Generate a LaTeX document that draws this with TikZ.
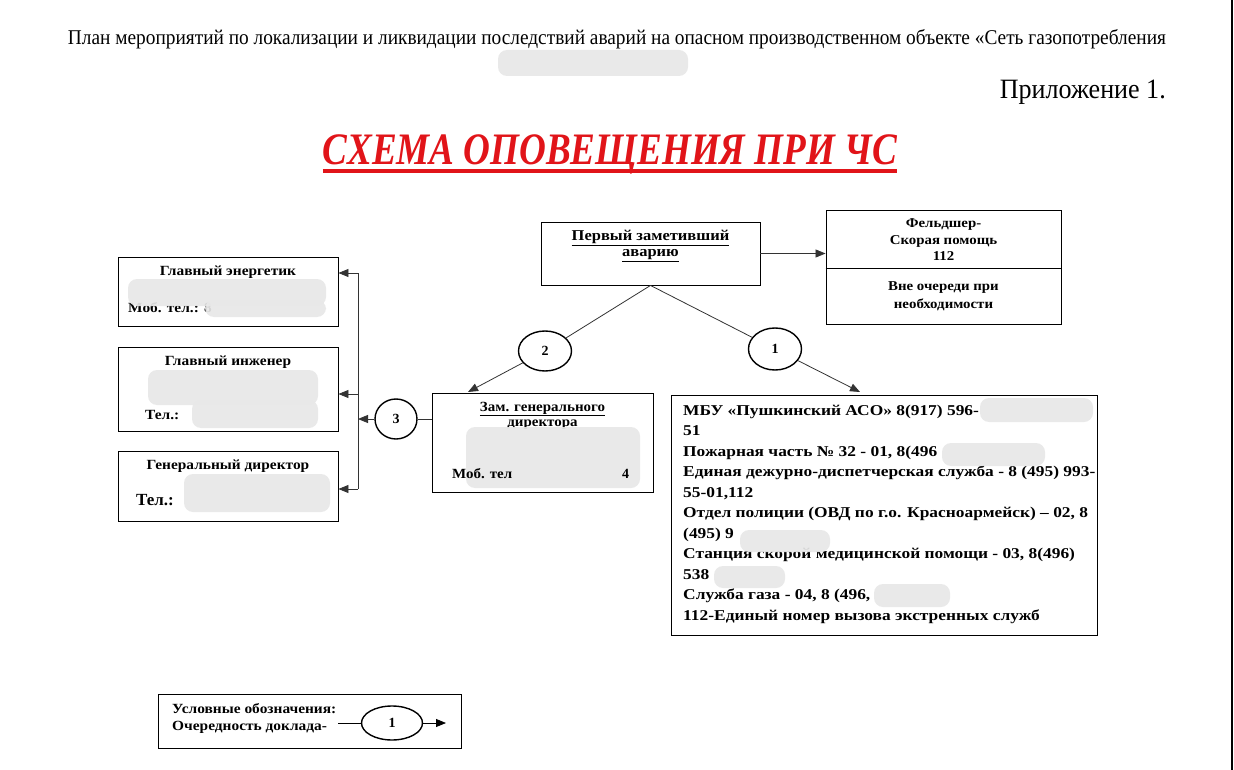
\documentclass[tikz,border=0pt]{standalone}
\usepackage{fontspec}
\usepackage{graphicx}
\setmainfont{Liberation Serif}
\usetikzlibrary{arrows.meta,shapes.geometric}
\definecolor{titlered}{RGB}{225,20,25}
\newcommand{\hsa}[1]{\scalebox{1.1}[1]{#1}}
\newcommand{\hsb}[1]{\scalebox{1.16}[1]{#1}}
\begin{document}
\begin{tikzpicture}[x=1pt,y=-1pt,
 box/.style={draw=black, line width=0.9pt, rectangle, inner sep=0pt},
 oval/.style={draw=black, line width=1.4pt, ellipse, inner sep=0pt, font=\bfseries\fontsize{14}{16}\selectfont},
 conn/.style={draw=black!80, line width=0.8pt},
 arr/.style={conn, -{Triangle[length=10pt,width=8pt]}},
 bt/.style={font=\bfseries\fontsize{14}{16}\selectfont, inner sep=0pt},
 st/.style={font=\bfseries\fontsize{13.5}{15}\selectfont, inner sep=0pt},
 mt/.style={font=\bfseries\fontsize{15}{17}\selectfont, inner sep=0pt, anchor=base west},
 blur/.style={fill=black!9, draw=none, opacity=0.92, rounded corners=9pt},
]
\useasboundingbox (0,0) rectangle (1234,770);
\fill[white] (0,0) rectangle (1234,770);
\draw[line width=2pt] (1232,0) -- (1232,770);

% header
\node[anchor=base, inner sep=0pt, font=\fontsize{21}{23}\selectfont] (hdr) at (617,45)
 {\resizebox{1098pt}{\height}{План мероприятий по локализации и ликвидации последствий аварий на опасном производственном объекте «Сеть газопотребления}};
\fill[blur] (498,50) rectangle (688,76);
\node[anchor=base east, inner sep=0pt, font=\fontsize{28}{30}\selectfont] (app) at (1166,99)
 {\resizebox{166pt}{\height}{Приложение 1.}};
\node[anchor=base, inner sep=0pt, text=titlered, font=\bfseries\itshape\fontsize{45}{50}\selectfont] (title) at (610,165)
 {\resizebox{574pt}{\height}{СХЕМА ОПОВЕЩЕНИЯ ПРИ ЧС}};
\draw[titlered, line width=4pt] ([yshift=-6pt]title.base west) -- ([yshift=-6pt]title.base east);

% boxes
\node[box, minimum width=219pt, minimum height=63pt] (first) at (650.5,253.5) {};
\node[bt, font=\bfseries\fontsize{15}{17}\selectfont] (firstt1) at (650.5,238) {\hsa{\underline{Первый заметивший}}};
\node[bt, font=\bfseries\fontsize{15}{17}\selectfont] (firstt2) at (650.5,256) {\hsa{\underline{аварию}}};

\node[box, minimum width=235pt, minimum height=114pt] (feld) at (943.5,267) {};
\draw[line width=0.9pt] (feld.west |- 0,268) coordinate (fdl) -- (feld.east |- 0,268) coordinate (fdr);
\node[st] (f1) at (943.5,225) {\hsa{Фельдшер-}};
\node[st] (f2) at (943.5,241) {\hsa{Скорая помощь}};
\node[st] (f3) at (943.5,256) {\hsa{112}};
\node[st] (f4) at (943.5,288) {\hsa{Вне очереди при}};
\node[st] (f5) at (943.5,305) {\hsa{необходимости}};

\node[box, minimum width=221pt, minimum height=99pt] (zam) at (542.5,442.5) {};
\node[bt] (z1) at (542.5,409) {\scalebox{1.07}[1]{\underline{Зам. генерального}}};
\node[bt] (z2) at (542.5,425) {\scalebox{1.07}[1]{директора}};
\fill[blur] (466,427) rectangle (640,488);
\node[bt, anchor=base west] (z3) at (452,478) {\scalebox{1.07}[1]{Моб. тел}};
\node[bt, anchor=base west] (z4) at (622,478) {4};

\node[box, minimum width=426pt, minimum height=240pt] (mbu) at (884,515) {};
\node[mt] (m1) at (683,415) {\hsb{МБУ «Пушкинский АСО» 8(917) 596-}};
\node[mt] (m2) at (683,435.5) {\hsb{51}};
\node[mt] (m3) at (683,456) {\hsb{Пожарная часть № 32 - 01, 8(496}};
\node[mt] (m4) at (683,476.5) {\hsb{Единая дежурно-диспетчерская служба - 8 (495) 993-}};
\node[mt] (m5) at (683,497) {\hsb{55-01,112}};
\node[mt] (m6) at (683,517.5) {\hsb{Отдел полиции (ОВД по г.о. Красноармейск) – 02, 8}};
\node[mt] (m7) at (683,538) {\hsb{(495) 9}};
\node[mt] (m8) at (683,558.5) {\hsb{Станция скорой медицинской помощи - 03, 8(496)}};
\node[mt] (m9) at (683,579) {\hsb{538}};
\node[mt] (m10) at (683,599.5) {\hsb{Служба газа - 04, 8 (496,}};
\node[mt] (m11) at (683,620) {\hsb{112-Единый номер вызова экстренных служб}};
\fill[blur] (980,398) rectangle (1093,422);
\fill[blur] (942,443) rectangle (1045,466);
\fill[blur] (740,530) rectangle (830,552);
\fill[blur] (714,566) rectangle (785,588);
\fill[blur] (874,584) rectangle (950,607);

\node[box, minimum width=220pt, minimum height=69pt] (en) at (228,291.5) {};
\node[bt] (en1) at (228,272) {\hsa{Главный энергетик}};
\node[bt, anchor=base west] (en2) at (128,312) {\hsa{Моб. тел.: 8}};
\fill[blur] (128,279) rectangle (326,306);
\fill[blur] (205,300) rectangle (326,317);

\node[box, minimum width=220pt, minimum height=84pt] (in) at (228,389) {};
\node[bt] (in1) at (228,362) {\hsa{Главный инженер}};
\node[bt, anchor=base west] (in2) at (145,419) {\hsa{Тел.:}};
\fill[blur] (148,370) rectangle (318,405);
\fill[blur] (192,400) rectangle (318,428);

\node[box, minimum width=220pt, minimum height=70pt] (gd) at (228,486) {};
\node[bt] (gd1) at (228,466) {\hsa{Генеральный директор}};
\node[bt, anchor=base west, font=\bfseries\fontsize{17}{19}\selectfont] (gd2) at (136,505) {Тел.:};
\fill[blur] (184,474) rectangle (330,512);

% circles
\node[oval, minimum width=53pt, minimum height=42pt] (c1) at (775,349) {1};
\node[oval, minimum width=53pt, minimum height=40pt] (c2) at (545,351) {2};
\node[oval, minimum width=42pt, minimum height=40pt] (c3) at (396,419) {3};

% connectors
\draw[arr] (first.east) -- (first.east -| feld.west);
\coordinate (zamtip) at (468,392);
\coordinate (mbutip) at (860,392);
\draw[conn] (first.south) -- (c2);
\draw[conn] (first.south) -- (c1);
\draw[arr] (c2) -- (zamtip);
\draw[arr] (c1) -- (mbutip);
\coordinate (busT) at (358,273);
\coordinate (busM) at (358,394);
\coordinate (busB) at (358,489);
\coordinate (busC) at (358,419);
\draw[conn] (zam.west |- c3) -- (c3);
\draw[arr] (c3) -- (busC);
\draw[conn] (busT) -- (busB);
\draw[arr] (busT) -- (busT -| en.east);
\draw[arr] (busM) -- (busM -| in.east);
\draw[arr] (busB) -- (busB -| gd.east);

% legend
\node[box, minimum width=303pt, minimum height=54pt] (leg) at (309.5,721) {};
\node[bt, anchor=base west] (l1) at (172,713) {\hsa{Условные обозначения:}};
\node[bt, anchor=base west] (l2) at (172,730) {\hsa{Очередность доклада-}};
\node[oval, minimum width=61pt, minimum height=34pt] (cl) at (392,723) {1};
\coordinate (legA) at (338,723);
\coordinate (legB) at (446,723);
\draw[conn, black] (legA) -- (cl);
\draw[arr, black] (cl) -- (legB);
\end{tikzpicture}
\end{document}
